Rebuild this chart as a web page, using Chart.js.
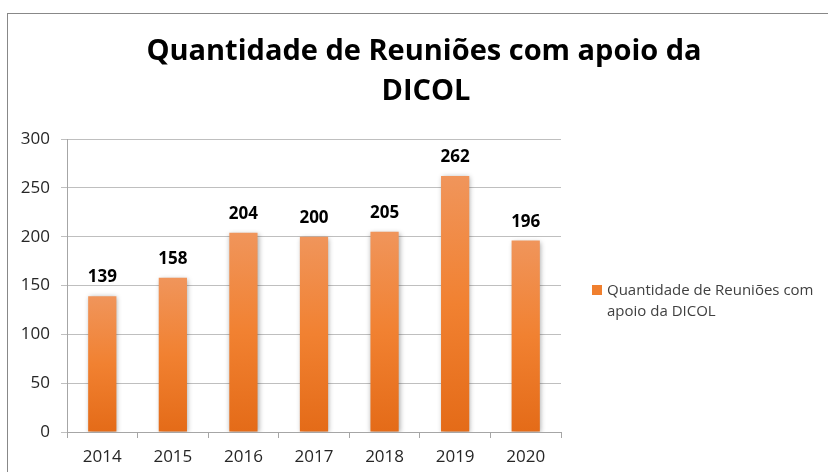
<!DOCTYPE html>
<html>
<head>
<meta charset="utf-8">
<script src="https://cdn.jsdelivr.net/npm/chart.js@4.4.1/dist/chart.umd.min.js"></script>
<style>
html,body{margin:0;padding:0;background:#fff;}
#wrap{position:relative;width:828px;height:472px;}
</style>
</head>
<body>
<div id="wrap"><canvas id="c" width="828" height="472"></canvas></div>
<script>
const titleLines = ['Quantidade de Reuniões com apoio da', 'DICOL'];
const categories = ['2014', '2015', '2016', '2017', '2018', '2019', '2020'];
const seriesName = 'Quantidade de Reuniões com apoio da DICOL';
const legendLines = ['Quantidade de Reuniões com', 'apoio da DICOL'];
const values = [139, 158, 204, 200, 205, 262, 196];
const yTicks = [0, 50, 100, 150, 200, 250, 300];

const FONT = "'Open Sans', 'Liberation Sans', sans-serif";

function barGradient(ctx) {
  const chart = ctx.chart;
  const area = chart.chartArea;
  if (!area || ctx.parsed === undefined) return '#F07F2E';
  const ys = chart.scales.y;
  const top = ys.getPixelForValue(ctx.parsed.y);
  const base = ys.getPixelForValue(0);
  const g = chart.ctx.createLinearGradient(0, top, 0, base);
  g.addColorStop(0, '#F0955B');
  g.addColorStop(0.5, '#F18131');
  g.addColorStop(1, '#E46B18');
  return g;
}

const decor = {
  id: 'decor',
  beforeDraw(chart) {
    const c = chart.ctx;
    c.save();
    c.fillStyle = '#fff';
    c.fillRect(0, 0, chart.width, chart.height);
    c.strokeStyle = '#888888';
    c.lineWidth = 1;
    c.strokeRect(7.5, 13.5, 1000, 1000);
    c.restore();
  },
  beforeDatasetsDraw(chart) {
    const c = chart.ctx;
    c.save();
    c.shadowColor = 'rgba(0,0,0,0.35)';
    c.shadowBlur = 5;
    c.shadowOffsetX = 1;
    c.shadowOffsetY = 1;
  },
  afterDatasetsDraw(chart) {
    const c = chart.ctx;
    c.restore();
    // data labels
    c.save();
    c.fillStyle = '#000';
    c.font = 'bold 17px ' + FONT;
    c.textAlign = 'center';
    c.textBaseline = 'alphabetic';
    const meta = chart.getDatasetMeta(0);
    meta.data.forEach((bar, i) => {
      c.fillText(String(values[i]), bar.x, bar.y - 14);
    });
    c.restore();
  },
  afterDraw(chart) {
    const c = chart.ctx;
    c.save();
    // title
    c.fillStyle = '#000';
    c.font = 'bold 29px ' + FONT;
    c.textAlign = 'center';
    c.textBaseline = 'alphabetic';
    c.fillText(titleLines[0], 424, 60);
    c.fillText(titleLines[1], 426, 100);
    // legend
    c.fillStyle = '#F07F2E';
    c.fillRect(592, 285, 10, 10);
    c.fillStyle = '#404040';
    c.font = '15px ' + FONT;
    c.textAlign = 'left';
    c.fillText(legendLines[0], 607, 295);
    c.fillText(legendLines[1], 607, 316);
    c.restore();
  }
};

new Chart(document.getElementById('c'), {
  type: 'bar',
  data: {
    labels: categories,
    datasets: [{
      label: seriesName,
      data: values,
      backgroundColor: barGradient,
      borderWidth: 0,
      categoryPercentage: 1,
      barPercentage: 0.4
    }]
  },
  options: {
    responsive: false,
    animation: false,
    devicePixelRatio: 1,
    layout: { padding: { left: 7, top: 139, right: 267, bottom: 0 } },
    plugins: {
      legend: { display: false },
      title: { display: false },
      tooltip: { enabled: false }
    },
    scales: {
      x: {
        afterFit(s) { s.height = 40; },
        grid: { display: true, drawOnChartArea: false, drawTicks: true, tickLength: 6, color: '#A6A6A6', offset: true },
        border: { display: true, color: '#A6A6A6', width: 1 },
        ticks: { color: '#262626', font: { family: FONT, size: 17 }, padding: 9, maxRotation: 0 }
      },
      y: {
        min: 0, max: 300,
        afterFit(s) { s.width = 60; },
        afterBuildTicks(s) { s.ticks = yTicks.map(v => ({ value: v })); },
        grid: { color: '#BFBFBF', tickLength: 6, drawTicks: true },
        border: { display: true, color: '#A6A6A6', width: 1 },
        ticks: { color: '#262626', font: { family: FONT, size: 17 }, padding: 11 }
      }
    }
  },
  plugins: [decor]
});
</script>
</body>
</html>
